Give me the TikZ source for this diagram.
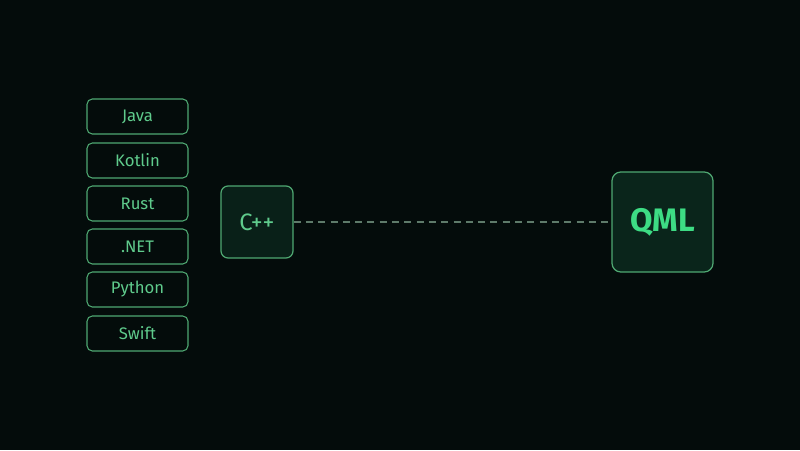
\documentclass[tikz,border=0pt]{standalone}
\usepackage{fontspec}
\setmainfont{Fira Sans}
\usepackage{xcolor}
\usepackage{tikz}
\definecolor{bg}{HTML}{040C0B}
\definecolor{edge}{HTML}{4FA872}
\definecolor{txt}{HTML}{5FCB8C}
\definecolor{qtxt}{HTML}{3DDC84}
\definecolor{cfill}{HTML}{092018}
\definecolor{qfill}{HTML}{0A251B}
\definecolor{linkgray}{HTML}{5E7A6A}
\tikzset{
  lang/.style={draw=edge, line width=0.6pt, rounded corners=3pt, fill=bg,
    minimum width=2.02cm, minimum height=0.7cm, text=txt, font=\fontsize{9.5}{11}\selectfont},
  core/.style={draw=edge, line width=0.7pt, rounded corners=4pt, fill=cfill,
    minimum width=1.44cm, minimum height=1.44cm, text=txt, font=\fontsize{13.5}{16}\selectfont},
  qml/.style={draw=edge, line width=0.7pt, rounded corners=5pt, fill=qfill,
    minimum width=2.02cm, minimum height=2.0cm, text=qtxt, font=\fontsize{18.5}{22}\selectfont\bfseries}
}
\begin{document}
\begin{tikzpicture}
\fill[bg] (0,0) rectangle (16,9);
\useasboundingbox (0,0) rectangle (16,9);
\node[lang] (java) at (2.75,6.67) {Java};
\node[lang] (kotlin) at (2.75,5.79) {Kotlin};
\node[lang] (rust) at (2.75,4.93) {Rust};
\node[lang] (dotnet) at (2.75,4.07) {.NET};
\node[lang] (python) at (2.75,3.21) {Python};
\node[lang] (swift) at (2.75,2.33) {Swift};
\node[core] (cpp) at (5.14,4.56) {C++};
\node[qml] (qmlbox) at (13.25,4.56) {QML};
\draw[linkgray, line width=0.6pt, dash pattern=on 4pt off 3pt] (cpp) -- (qmlbox);
\end{tikzpicture}
\end{document}
